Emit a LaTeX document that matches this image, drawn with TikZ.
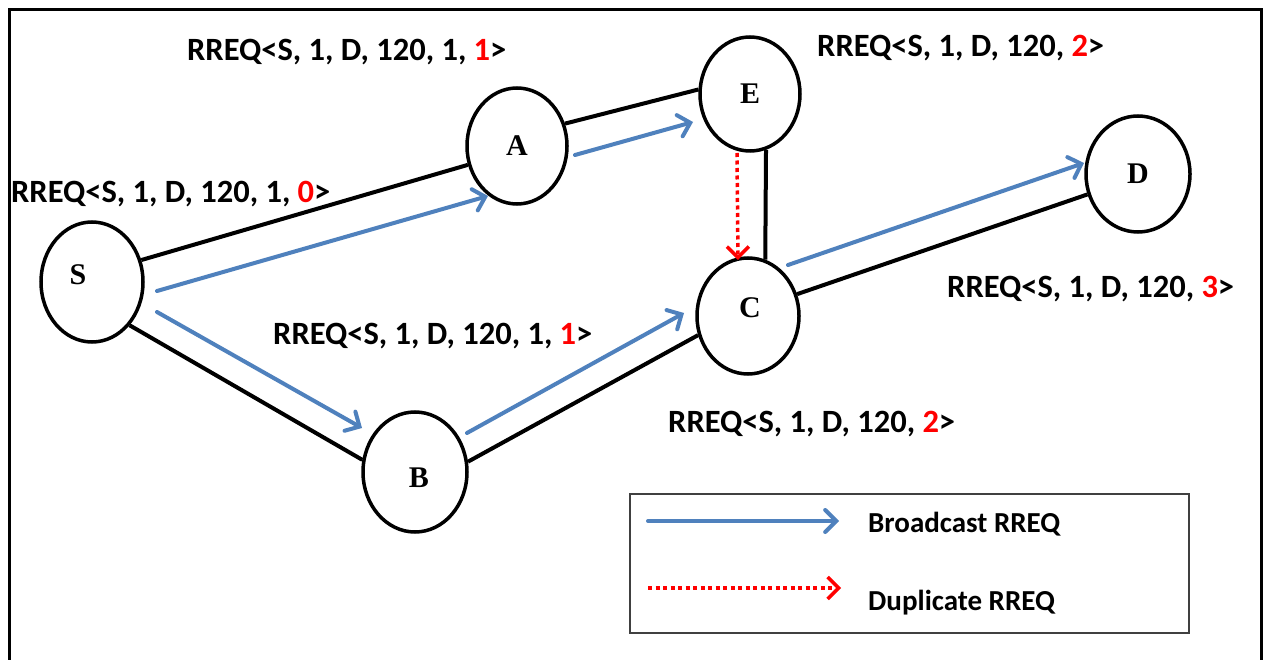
\documentclass[tikz,border=0pt]{standalone}
\usepackage{fontspec}
\setmainfont{Liberation Serif}
\newfontfamily\calibri{Carlito}
\usetikzlibrary{shapes.geometric, arrows.meta, calc}
\definecolor{bcast}{HTML}{4F81BD}
\definecolor{hopred}{HTML}{FF0000}
\definecolor{legendgray}{HTML}{404040}

\tikzset{
  station/.style={ellipse, draw=black, line width=3.5pt, fill=white, inner sep=0pt,
    minimum width=102pt, minimum height=116pt,
    font=\bfseries\fontsize{30}{32}\selectfont},
  nodetext/.style={inner sep=0pt, font=\bfseries\fontsize{30}{32}\selectfont},
  link/.style={draw=black, line width=4pt},
  bcastarrow/.style={draw=bcast, line width=4pt, line cap=round,
    -{Straight Barb[length=11pt, width=22pt, line cap=round]}},
  duparrow/.style={draw=hopred, line width=3.5pt, dash pattern=on 4pt off 3.5pt,
    -{Straight Barb[length=11pt, width=22pt]}},
  msg/.style={anchor=base west, inner sep=0pt,
    font=\calibri\bfseries\fontsize{32.5}{36}\selectfont},
  legendtext/.style={anchor=base west, inner sep=0pt,
    font=\calibri\bfseries\fontsize{29}{32}\selectfont},
}

\begin{document}
\begin{tikzpicture}[x=1pt, y=-1pt]
  % canvas and outer frame
  \clip (0,0) rectangle (1267,660);
  \fill[white] (0,0) rectangle (1267,660);
  \draw[line width=3pt] (9,10) rectangle (1261,700);

  % stations
  \node[station, minimum width=102pt, minimum height=120pt,
        label={[nodetext, xshift=-14pt, yshift=7pt]center:S}] (S) at (92,282) {};
  \node[station, minimum width=100pt, minimum height=116pt] (A) at (517,146) {A};
  \node[station, minimum width=100pt, minimum height=114pt] (E) at (750,94) {E};
  \node[station, minimum width=102pt, minimum height=116pt,
        label={[nodetext, xshift=2pt, yshift=8pt]center:C}] (C) at (748,316) {};
  \node[station, minimum width=104pt, minimum height=116pt] (D) at (1138,174) {D};
  \node[station, minimum width=104pt, minimum height=120pt,
        label={[nodetext, xshift=4pt, yshift=-6pt]center:B}] (B) at (415,472) {};

  % radio links
  \draw[link] (S.24) -- (A.201);
  \draw[link] (S.-49) -- (B.167);
  \draw[link] (B.11) -- (C.201);
  \draw[link] (A.25) -- (E.175);
  \draw[link] (E.-74) -- (C.73);
  \draw[link] (C.24) -- (D.202);

  % ends of the broadcast arrows
  \coordinate (sa0) at ($(S)+(65,9)$);
  \coordinate (sa1) at ($(A)+(-29,50)$);
  \coordinate (sb0) at ($(S)+(65,30)$);
  \coordinate (sb1) at ($(B)+(-53,-44)$);
  \coordinate (bc0) at ($(B)+(52,-39)$);
  \coordinate (bc1) at ($(C)+(-64,-3)$);
  \coordinate (ae0) at ($(A)+(58,9)$);
  \coordinate (ae1) at ($(E)+(-57,28)$);
  \coordinate (cd0) at ($(C)+(40,-51)$);
  \coordinate (cd1) at ($(D)+(-54,-11)$);
  \coordinate (ec0) at ($(E)+(-13,59)$);
  \coordinate (ec1) at ($(C)+(-10,-56)$);

  \draw[bcastarrow] (sa0) -- (sa1);
  \draw[bcastarrow] (sb0) -- (sb1);
  \draw[bcastarrow] (bc0) -- (bc1);
  \draw[bcastarrow] (ae0) -- (ae1);
  \draw[bcastarrow] (cd0) -- (cd1);
  \draw[duparrow] (ec0) -- (ec1);

  % RREQ messages
  \node[msg] (mA) at (187,61) {RREQ<S, 1, D, 120, 1, \textcolor{hopred}{1}>};
  \node[msg] (mE) at (817,57) {RREQ<S, 1, D, 120, \textcolor{hopred}{2}>};
  \node[msg] (mS) at (11,203) {RREQ<S, 1, D, 120, 1, \textcolor{hopred}{0}>};
  \node[msg] (mB) at (273,345) {RREQ<S, 1, D, 120, 1, \textcolor{hopred}{1}>};
  \node[msg] (mD) at (947,298) {RREQ<S, 1, D, 120, \textcolor{hopred}{3}>};
  \node[msg] (mC) at (668,432) {RREQ<S, 1, D, 120, \textcolor{hopred}{2}>};

  % legend
  \node[draw=legendgray, line width=2pt, anchor=north west, inner sep=0pt,
        minimum width=559pt, minimum height=139pt] (legend) at (629,493) {};
  \coordinate (lb0) at ($(legend.north west)+(19,28)$);
  \coordinate (lb1) at ($(legend.north west)+(210,28)$);
  \coordinate (ld0) at ($(legend.north west)+(19,95)$);
  \coordinate (ld1) at ($(legend.north west)+(212,95)$);
  \draw[bcastarrow] (lb0) -- (lb1);
  \draw[duparrow] (ld0) -- (ld1);
  \node[legendtext] (lbt) at (868,532) {Broadcast RREQ};
  \node[legendtext] (ldt) at (868,610) {Duplicate RREQ};
\end{tikzpicture}
\end{document}
